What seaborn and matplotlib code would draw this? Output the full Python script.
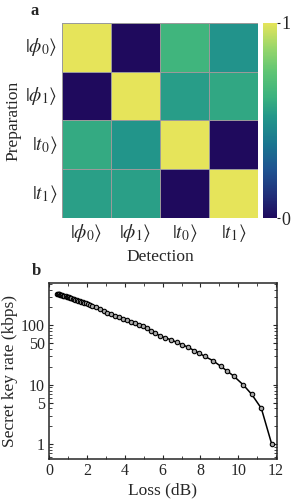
import numpy as np
import pandas as pd
import matplotlib
matplotlib.use('Agg')
import matplotlib.pyplot as plt
import seaborn as sns
from matplotlib.colors import LinearSegmentedColormap
from matplotlib.ticker import MultipleLocator, LogLocator, FixedLocator, FixedFormatter, NullFormatter

# data
states = [r'$|\phi_0\rangle$', r'$|\phi_1\rangle$', r'$|t_0\rangle$', r'$|t_1\rangle$']
row_phi0 = [1.00, 0.00, 0.64, 0.50]
row_phi1 = [0.00, 1.00, 0.54, 0.58]
row_t0 = [0.59, 0.51, 1.00, 0.00]
row_t1 = [0.55, 0.55, 0.00, 1.00]

loss_db = [0.39, 0.44, 0.49, 0.54, 0.59, 0.64, 0.69, 0.74, 0.80, 0.86, 0.92, 0.98,
           1.04, 1.10, 1.17, 1.24, 1.31, 1.38, 1.45, 1.53, 1.61, 1.69, 1.77, 1.86,
           1.95, 2.04, 2.14, 2.24, 2.45, 2.66, 2.87, 3.08, 3.29, 3.50, 3.71, 3.92,
           4.13, 4.34, 4.55, 4.76, 4.97, 5.18, 5.40, 5.62, 5.84, 6.10, 6.42, 6.74,
           7.02, 7.32, 7.67, 7.94, 8.22, 8.65, 9.07, 9.40, 9.77, 10.27, 10.71, 11.22, 11.77]
key_rate = [341, 337, 334, 330, 327, 323, 320, 316, 312, 308, 304, 300,
            295, 291, 286, 281, 276, 271, 266, 261, 256, 251, 245, 240,
            234, 229, 221, 214, 200, 187, 175, 164, 154, 145, 137, 129,
            122, 115, 109, 103, 97, 89, 81, 73, 67, 62, 57.4, 51.8,
            47.3, 43.2, 37.5, 33.8, 30.1, 25.5, 20.5, 17.1, 13.9, 9.9, 6.9, 4.0, 1.0]

sns.set_style('ticks')
plt.rcParams['font.family'] = ['Liberation Serif', 'DejaVu Serif']
plt.rcParams['mathtext.fontset'] = 'stix'

# colour map
cmap = LinearSegmentedColormap.from_list('bar', [
    (0.0, '#1f0a5d'), (0.12, '#21307a'), (0.25, '#1f5491'), (0.38, '#1a7690'),
    (0.52, '#23978a'), (0.62, '#3bb27f'), (0.75, '#5fc574'), (0.87, '#97d66a'),
    (1.0, '#e6e45a')])

fig = plt.figure(figsize=(2.91, 5.04), dpi=100)

# panel a
ax_a = fig.add_axes([0.212, 0.567, 0.676, 0.388])
cax = fig.add_axes([0.905, 0.567, 0.046, 0.388])
mat = pd.DataFrame([row_phi0, row_phi1, row_t0, row_t1], index=states, columns=states)
sns.heatmap(mat, ax=ax_a, cbar_ax=cax, cmap=cmap, vmin=0, vmax=1,
            linewidths=0.4, linecolor='#9a9a9a',
            cbar_kws={'ticks': [0, 1]})
ax_a.tick_params(length=0, labelsize=14, pad=3)
ax_a.set_yticklabels(states, rotation=0)
ax_a.set_xticklabels(states, rotation=0)
ax_a.set_xlabel('Detection', fontsize=12.5, labelpad=3)
ax_a.set_ylabel('Preparation', fontsize=12.5, labelpad=3)
cax.tick_params(length=2, labelsize=13, pad=1)
cax.yaxis.set_major_formatter(FixedFormatter(['0', '1']))
fig.text(0.105, 0.978, 'a', fontsize=12, fontweight='bold', va='center')

# panel b
ax_b = fig.add_axes([0.168, 0.089, 0.784, 0.349])
curve = pd.DataFrame({'loss': loss_db, 'rate': key_rate})
sns.lineplot(data=curve, x='loss', y='rate', ax=ax_b, color='black', lw=1.1,
             marker='o', markersize=3.2, markerfacecolor='#a8a8a8',
             markeredgecolor='black', markeredgewidth=0.8)
ax_b.set_yscale('log')
ax_b.set_xlim(-0.02, 12.05)
ax_b.set_ylim(0.56, 510)
ax_b.yaxis.set_major_locator(FixedLocator([1, 5, 10, 50, 100]))
ax_b.yaxis.set_major_formatter(FixedFormatter(['1', '5', '10', '50', '100']))
ax_b.yaxis.set_minor_locator(LogLocator(base=10, subs=np.arange(2, 10)))
ax_b.yaxis.set_minor_formatter(NullFormatter())
ax_b.xaxis.set_major_locator(MultipleLocator(2))
ax_b.xaxis.set_minor_locator(MultipleLocator(1))
ax_b.tick_params(which='both', direction='in', top=True, right=True, labelsize=11.5, pad=3)
ax_b.tick_params(which='major', length=3, width=0.8)
ax_b.tick_params(which='minor', length=2, width=0.6)
for s in ax_b.spines.values():
    s.set_linewidth(1.1)
ax_b.set_xlabel('Loss (dB)', fontsize=12.5, labelpad=2)
ax_b.set_ylabel('Secret key rate (kbps)', fontsize=12.5, labelpad=2)
fig.text(0.108, 0.462, 'b', fontsize=12, fontweight='bold', va='center')

fig.savefig('out.png', dpi=100)
